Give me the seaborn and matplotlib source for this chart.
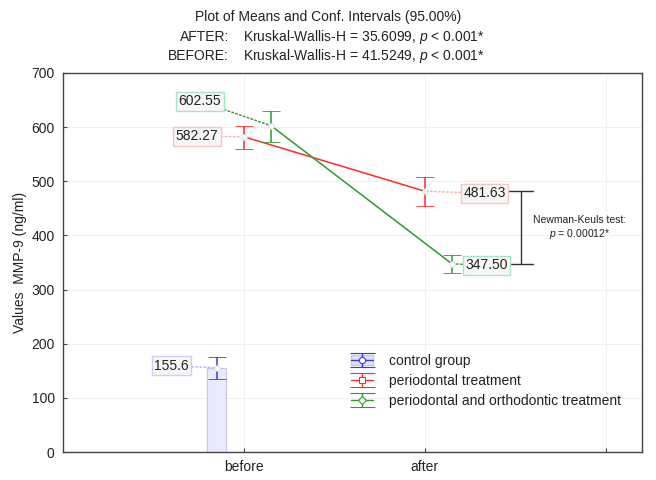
import numpy as np
import pandas as pd
import matplotlib
matplotlib.use("Agg")
import matplotlib.pyplot as plt
import seaborn as sns
from matplotlib.patches import Patch
from matplotlib.legend_handler import HandlerTuple

# ---- data ----
groups = ["control group", "periodontal treatment", "periodontal and orthodontic treatment"]
times = ["before", "after"]
means_before = [155.6, 582.27, 602.55]
means_after = [np.nan, 481.63, 347.50]
ci_low_before = [135.0, 560.0, 573.0]
ci_high_before = [176.0, 602.0, 630.0]
ci_low_after = [np.nan, 455.0, 331.0]
ci_high_after = [np.nan, 507.0, 364.0]
label_before = ["155.6", "582.27", "602.55"]
label_after = ["", "481.63", "347.50"]
title_lines = ["Plot of Means and Conf. Intervals (95.00%)"]
test_names = ["AFTER:", "BEFORE:"]
test_texts = [r"Kruskal-Wallis-H = 35.6099, $p$ < 0.001*", r"Kruskal-Wallis-H = 41.5249, $p$ < 0.001*"]
nk_text = "Newman-Keuls test:\n$p$ = 0.00012*"
ylabel = "Values  MMP-9 (ng/ml)"

colors = ["#3a3ae0", "#ff2a2a", "#2e9a2e"]
box_edges = ["#cfcff6", "#f6c6c6", "#a6e6c6"]
lead_colors = ["#b8b8ee", "#f6b0b0", "#2e9a2e"]
offsets = [-0.15, 0.0, 0.15]
markers = ["o", "s", "D"]

sns.set_theme(style="white")
plt.rcParams["font.family"] = ["Liberation Sans", "DejaVu Sans"]
plt.rcParams["mathtext.fontset"] = "custom"
plt.rcParams["mathtext.it"] = "Liberation Sans:italic"
plt.rcParams["mathtext.rm"] = "Liberation Sans"

fig = plt.figure(figsize=(6.56, 4.8), dpi=100)
ax = fig.add_axes([63/656, 1-452/480, (642-63)/656, (452-73)/480])

rows = []
for g, mb, ma in zip(groups, means_before, means_after):
    rows.append(dict(group=g, time="before", value=mb))
    rows.append(dict(group=g, time="after", value=ma))
df = pd.DataFrame(rows)
df["pos"] = df.apply(lambda r: times.index(r["time"]) + 1 + offsets[groups.index(r["group"])], axis=1)

# control bar
ctrl = df[(df.group == groups[0]) & (df.time == "before")]
ax.bar(ctrl["pos"], ctrl["value"], width=0.105, color="#eaeafc", edgecolor="#c6c6f6", linewidth=0.8, zorder=2)

# lines for treatment groups
line_df = df[df.group != groups[0]].dropna()
sns.lineplot(data=line_df, x="pos", y="value", hue="group", palette=colors[1:], ax=ax,
             legend=False, linewidth=1.1, zorder=3, sort=True)

handles = []
for i, g in enumerate(groups):
    xs, ys, lo, hi = [], [], [], []
    for t, m, l, h in [(0, means_before[i], ci_low_before[i], ci_high_before[i]),
                       (1, means_after[i], ci_low_after[i], ci_high_after[i])]:
        if not np.isnan(m):
            xs.append(t + 1 + offsets[i]); ys.append(m); lo.append(m - l); hi.append(h - m)
    ax.errorbar(xs, ys, yerr=[lo, hi], fmt=markers[0], color=colors[i],
                ecolor=colors[i], elinewidth=1.1, capsize=6.8, capthick=1.1,
                markersize=4, markerfacecolor="white", markeredgecolor="#d8d8d8",
                markeredgewidth=0.6, linestyle="none", zorder=4)
    # legend-only handle (empty data)
    dummy = ax.errorbar([np.nan], [np.nan], yerr=[[1], [1]], fmt=markers[i] if i else "o",
                        color=colors[i], ecolor=colors[i], elinewidth=1.0, capsize=9, capthick=1.0,
                        markersize=4.5, markerfacecolor="white", markeredgecolor=colors[i],
                        markeredgewidth=0.8, linestyle="-", linewidth=1.0)
    if i == 0:
        handles.append((Patch(facecolor="#e4e4fb", edgecolor="#c6c6f6"), dummy))
    else:
        handles.append(dummy)

# value labels
lab_pos_before = [(0.60, 159), (0.74, 583), (0.757, 648)]
lab_pos_after = [None, (2.33, 478), (2.34, 345)]
for i in range(3):
    for t, (labels, poses, means) in enumerate([(label_before, lab_pos_before, means_before),
                                                 (label_after, lab_pos_after, means_after)]):
        if poses[i] is None:
            continue
        ax.annotate(labels[i], xy=(t + 1 + offsets[i], means[i]), xytext=poses[i],
                    ha="center", va="center", fontsize=10, color="#222222",
                    bbox=dict(boxstyle="square,pad=0.18", facecolor="#f6f6f6", edgecolor=box_edges[i], linewidth=1.0),
                    arrowprops=dict(arrowstyle="-", linestyle=":", color=lead_colors[i], linewidth=1.1,
                                    shrinkA=0, shrinkB=2), zorder=5)

# Newman-Keuls bracket
ax.plot([2.46, 2.60], [means_after[1], means_after[1]], color="#333333", lw=1.0)
ax.plot([2.47, 2.60], [means_after[2], means_after[2]], color="#333333", lw=1.0)
ax.plot([2.53, 2.53], [means_after[2], means_after[1]], color="#333333", lw=1.0)
ax.text(2.855, 414, nk_text, ha="center", va="center", fontsize=7.5, color="#222222", linespacing=1.2)

ax.set_xlim(0, 3.2)
ax.set_ylim(0, 700)
ax.set_xticks([1, 2, 3])
ax.set_xticklabels(["before", "after", ""])
ax.set_yticks(range(0, 701, 100))
ax.set_xlabel("")
ax.set_ylabel("")
ax.grid(True, color="#f0f0f0", linewidth=0.7)
ax.set_axisbelow(True)
for s in ax.spines.values():
    s.set_color("#444444"); s.set_linewidth(1.0); s.set_visible(True)
ax.tick_params(direction="in", length=3, width=0.8, color="#444444", labelsize=10, labelcolor="#222222",
               bottom=True, left=True, pad=6)

fig.text(20/656, 1-262/480, ylabel, rotation=90, ha="center", va="center", fontsize=10, color="#222222")

fig.text(328/656, 1-17/480, title_lines[0], ha="center", va="center", fontsize=10, color="#222222")
for k, (n, t) in enumerate(zip(test_names, test_texts)):
    yy = 1 - (37 + 19*k)/480
    fig.text(229/656, yy, n, ha="right", va="center", fontsize=10, color="#222222")
    fig.text(243/656, yy, t, ha="left", va="center", fontsize=10, color="#222222")

leg = ax.legend(handles, groups, handler_map={tuple: HandlerTuple(ndivide=1)},
                loc="upper left", bbox_to_anchor=(338/656, 1-341/480), bbox_transform=fig.transFigure,
                frameon=False, fontsize=10, handlelength=1.6, handletextpad=1.2, labelspacing=0.45)
for txt in leg.get_texts():
    txt.set_color("#222222")

fig.savefig("out.png", dpi=100)
